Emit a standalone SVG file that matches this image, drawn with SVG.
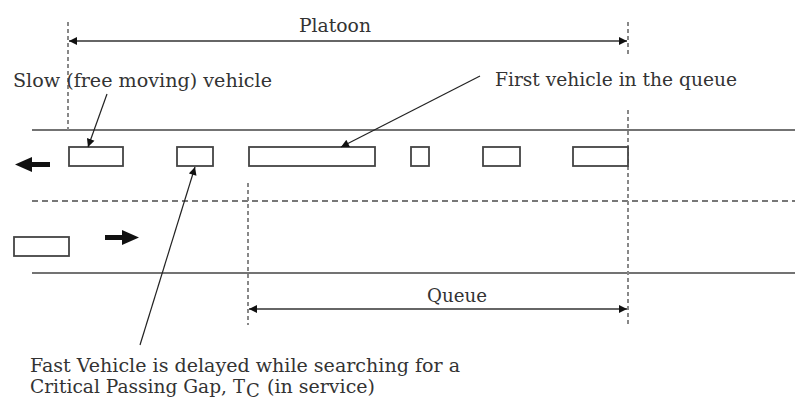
<svg xmlns="http://www.w3.org/2000/svg" width="795" height="405" viewBox="0 0 795 405">
<defs>
<marker id="ah" viewBox="0 0 10 10" refX="10" refY="5" markerWidth="11" markerHeight="8" markerUnits="userSpaceOnUse" orient="auto-start-reverse"><path d="M0,0 L10,5 L0,10 z" fill="#111"/></marker>
<marker id="ahs" viewBox="0 0 10 10" refX="10" refY="5" markerWidth="9" markerHeight="8" markerUnits="userSpaceOnUse" orient="auto"><path d="M0,0 L10,5 L0,10 z" fill="#111"/></marker>
</defs>
<style>
text{font-family:"DejaVu Serif","Liberation Serif",serif;font-size:18px;fill:#333}
.road{stroke:#444;stroke-width:1.5;fill:none}
.dash{stroke:#777;stroke-width:2;stroke-dasharray:6 4;fill:none}
.vd{stroke:#888;stroke-width:2;stroke-dasharray:4 3;fill:none}
.car{fill:#fff;stroke:#444;stroke-width:1.8}
.dim{stroke:#333;stroke-width:1.5;fill:none}
.lead{stroke:#222;stroke-width:1.2;fill:none}
.big{fill:#111}
</style>
<rect width="795" height="405" fill="#fff"/>
<g id="road">
<line class="road" x1="32" y1="130" x2="795" y2="130"/>
<line class="dash" x1="32" y1="201" x2="795" y2="201"/>
<line class="road" x1="32" y1="273" x2="795" y2="273"/>
</g>
<g id="guides">
<line class="vd" x1="68" y1="22" x2="68" y2="130"/>
<line class="vd" x1="628" y1="22" x2="628" y2="55"/>
<line class="vd" x1="628" y1="110" x2="628" y2="325"/>
<line class="vd" x1="248" y1="183" x2="248" y2="325"/>
</g>
<g id="vehicles">
<rect id="car1" class="car" x="69" y="147" width="54" height="19"/>
<rect id="car2" class="car" x="177" y="147" width="36" height="19"/>
<rect id="car3" class="car" x="249" y="147" width="126" height="19"/>
<rect id="car4" class="car" x="411" y="147" width="18" height="19"/>
<rect id="car5" class="car" x="483" y="147" width="37" height="19"/>
<rect id="car6" class="car" x="573" y="147" width="55" height="19"/>
<rect id="car7" class="car" x="14" y="237" width="55" height="19"/>
</g>
<g id="direction">
<path class="big" d="M15,164.5 L32,157 L32,162 L50,162 L50,167 L32,167 L32,172 z"/>
<path class="big" d="M139,237.5 L122,230 L122,235 L105,235 L105,240 L122,240 L122,245 z"/>
</g>
<g id="connectors">
<line class="dim" x1="69" y1="41" x2="627" y2="41" marker-start="url(#ah)" marker-end="url(#ah)"/>
<line class="dim" x1="249" y1="309" x2="627" y2="309" marker-start="url(#ah)" marker-end="url(#ah)"/>
<line class="lead" x1="107" y1="94" x2="88" y2="147" marker-end="url(#ahs)"/>
<line class="lead" x1="480" y1="76" x2="341" y2="147" marker-end="url(#ahs)"/>
<line class="lead" x1="140" y1="345" x2="195" y2="167" marker-end="url(#ahs)"/>
</g>
<g id="labels">
<text x="299" y="32" textLength="72" lengthAdjust="spacingAndGlyphs">Platoon</text>
<text x="13" y="87" textLength="259" lengthAdjust="spacingAndGlyphs">Slow (free moving) vehicle</text>
<text x="495" y="86" textLength="242" lengthAdjust="spacingAndGlyphs">First vehicle in the queue</text>
<text x="427" y="302" textLength="60" lengthAdjust="spacingAndGlyphs">Queue</text>
<text x="30" y="372" textLength="430" lengthAdjust="spacingAndGlyphs">Fast Vehicle is delayed while searching for a</text>
<text x="30" y="393" textLength="197" lengthAdjust="spacingAndGlyphs">Critical Passing Gap,</text>
<text x="233" y="393">T</text>
<text x="246" y="397" font-size="12">C</text>
<text x="267" y="393" textLength="108" lengthAdjust="spacingAndGlyphs">(in service)</text>
</g>
</svg>
